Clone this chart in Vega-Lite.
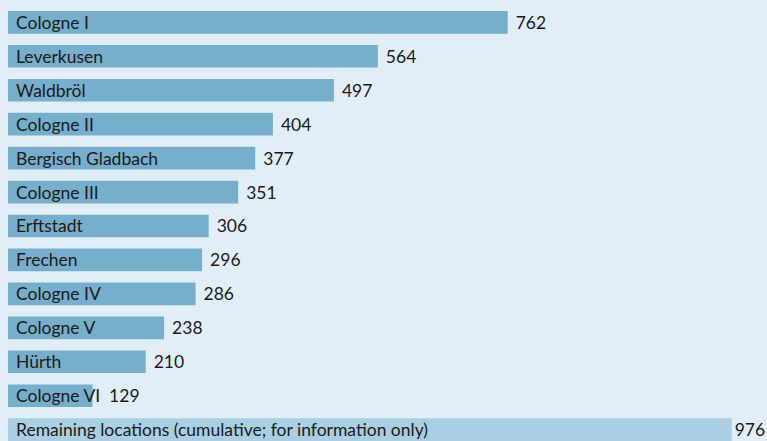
{
  "$schema": "https://vega.github.io/schema/vega-lite/v6.json",
  "width": 759,
  "height": 441,
  "autosize": {"type": "none"},
  "padding": {"left": 8, "top": 0, "right": 0, "bottom": 0},
  "background": "#e2eef7",
  "config": {"view": {"stroke": null}, "text": {"font": "Lato", "fontSize": 17.5, "dy": 1.5}},
  "data": {
    "values": [
      {"name": "Cologne I", "value": 762, "group": "main"},
      {"name": "Leverkusen", "value": 564, "group": "main"},
      {"name": "Waldbröl", "value": 497, "group": "main"},
      {"name": "Cologne II", "value": 404, "group": "main"},
      {"name": "Bergisch Gladbach", "value": 377, "group": "main"},
      {"name": "Cologne III", "value": 351, "group": "main"},
      {"name": "Erftstadt", "value": 306, "group": "main"},
      {"name": "Frechen", "value": 296, "group": "main"},
      {"name": "Cologne IV", "value": 286, "group": "main"},
      {"name": "Cologne V", "value": 238, "group": "main"},
      {"name": "Hürth", "value": 210, "group": "main"},
      {"name": "Cologne VI", "value": 129, "group": "main"},
      {"name": "Remaining locations (cumulative; for information only)", "value": 976, "group": "rest"}
    ]
  },
  "encoding": {
    "y": {
      "field": "name",
      "type": "nominal",
      "sort": null,
      "axis": null,
      "scale": {
        "domain": ["Cologne I", "Leverkusen", "Waldbröl", "Cologne II", "Bergisch Gladbach", "Cologne III", "Erftstadt", "Frechen", "Cologne IV", "Cologne V", "Hürth", "Cologne VI", "Remaining locations (cumulative; for information only)"],
        "paddingInner": 0.332,
        "paddingOuter": 0.162,
        "align": 1
      }
    }
  },
  "layer": [
    {
      "transform": [
        {"filter": "datum.group === 'main'"},
        {"calculate": "max(datum.value, length(datum.name) * 14.2)", "as": "labelPos"}
      ],
      "layer": [
        {
          "mark": {"type": "bar", "color": "#77aecb"},
          "encoding": {
            "x": {"field": "value", "type": "quantitative", "axis": null, "scale": {"domain": [0, 1157.4], "nice": false, "zero": true}}
          }
        },
        {
          "mark": {"type": "text", "align": "left", "baseline": "middle", "dx": 8, "dy": 1.5, "color": "#1a1a1a"},
          "encoding": {
            "x": {"datum": 0, "type": "quantitative"},
            "text": {"field": "name"}
          }
        },
        {
          "mark": {"type": "text", "align": "left", "baseline": "middle", "dx": 8, "dy": 1.5, "color": "#1a1a1a"},
          "encoding": {
            "x": {"field": "labelPos", "type": "quantitative"},
            "text": {"field": "value"}
          }
        }
      ]
    },
    {
      "transform": [{"filter": "datum.group === 'rest'"}],
      "layer": [
        {
          "mark": {"type": "bar", "color": "#aacee2"},
          "encoding": {
            "x": {"field": "value", "type": "quantitative", "axis": null, "scale": {"domain": [0, 1023.6], "nice": false, "zero": true}}
          }
        },
        {
          "mark": {"type": "text", "align": "left", "baseline": "middle", "dx": 8, "dy": 1.5, "color": "#1a1a1a"},
          "encoding": {
            "x": {"datum": 0, "type": "quantitative"},
            "text": {"field": "name"}
          }
        },
        {
          "mark": {"type": "text", "align": "left", "baseline": "middle", "dx": 3, "dy": 1.5, "color": "#1a1a1a"},
          "encoding": {
            "x": {"field": "value", "type": "quantitative"},
            "text": {"field": "value"}
          }
        }
      ]
    }
  ],
  "resolve": {"scale": {"x": "independent"}}
}
